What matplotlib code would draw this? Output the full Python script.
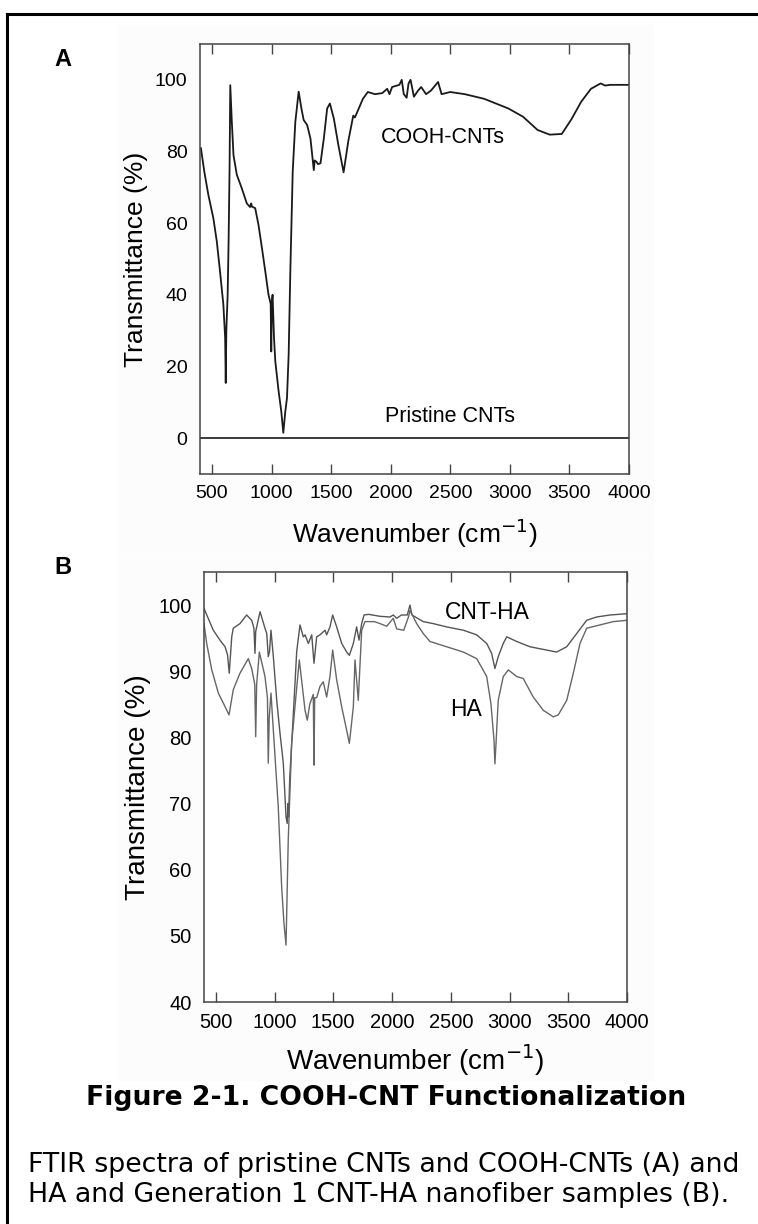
import matplotlib
matplotlib.use("Agg")
import matplotlib.pyplot as plt
from matplotlib.lines import Line2D
from matplotlib.patches import Rectangle

plt.rcParams['font.family'] = ['Liberation Sans', 'DejaVu Sans']

# --- panel A : pristine CNTs / COOH-CNTs ---
cooh_wn = [408, 436, 470, 512, 541, 568, 596, 611, 616, 621, 632, 640, 648, 654,
           667, 681, 709, 751, 793, 820, 830, 836, 863, 891, 920, 948, 975, 993,
           998, 1003, 1009, 1021, 1032, 1060, 1082, 1099, 1116, 1130, 1144, 1158,
           1178, 1200, 1228, 1251, 1270, 1299, 1327, 1355, 1362, 1375, 1390, 1411,
           1439, 1467, 1490, 1523, 1560, 1605, 1645, 1686, 1700, 1727, 1767, 1808,
           1869, 1930, 1971, 1990, 2012, 2073, 2093, 2110, 2134, 2150, 2167, 2195,
           2230, 2256, 2297, 2338, 2398, 2427, 2500, 2622, 2785, 2988, 3111, 3233,
           3335, 3436, 3517, 3599, 3681, 3762, 3800, 3843, 4000]
cooh_t = [80.9, 74.4, 67.9, 61.4, 54.9, 46.5, 37.3, 28, 15.4, 30, 40, 55, 75, 98.5,
          88.3, 79, 73.5, 69.7, 65.5, 64.5, 65.5, 64.6, 64.2, 59.5, 53, 46.5, 40, 37.5,
          24.2, 38, 40, 28, 21.4, 13, 7.5, 1.5, 7.5, 11.2, 23.4, 46.5,
          74.4, 88.3, 96.7, 92, 88.8, 87.4, 83.6, 74.8, 77.5, 77.2, 76.5, 76.7,
          83.6, 92, 93.4, 89.2, 82, 74.2, 83, 90, 89.5, 91.6, 94.7, 96.6,
          96, 96.3, 97.5, 96, 98, 98.6, 100, 96, 95, 99, 100, 95.3,
          97, 98, 96, 97, 99.4, 96, 96.6, 96, 94.7, 92, 89.7, 86,
          84.7, 84.9, 89, 93.9, 97.5, 99, 98.4, 98.6, 98.6]
pristine_wn = [400, 4000]
pristine_t = [0, 0]

# --- panel B : HA / CNT-HA ---
cntha_wn = [400, 479, 536, 579, 600, 615, 636, 649, 706, 763, 806, 825, 834, 840,
            877, 919, 934, 947, 958, 970, 990, 1019, 1047, 1075, 1098, 1108, 1115,
            1120, 1130, 1146, 1174, 1189, 1217, 1245, 1260, 1288, 1317, 1336, 1359,
            1387, 1430, 1444, 1472, 1495, 1529, 1572, 1614, 1637, 1671, 1699, 1719,
            1742, 1762, 1800, 1898, 1983, 2011, 2040, 2080, 2130, 2153, 2170, 2266,
            2351, 2465, 2607, 2721, 2806, 2848, 2876, 2904, 2947, 2976, 3061, 3174,
            3316, 3401, 3487, 3572, 3657, 3742, 3855, 4000]
cntha_t = [99.5, 96.2, 94.7, 93.7, 92.5, 89.7, 95.2, 96.5, 97.2, 98.5, 97.7, 96.5, 92.7, 96,
           99, 96.5, 95.7, 92.2, 93, 96.2, 92.2, 85.6, 80.6, 76.1, 68, 67, 70,
           68, 74, 79, 88, 93, 97, 95.2, 95.5, 94.2, 95.5, 91.2, 95.2,
           95.5, 96.2, 95.5, 96.7, 98.5, 96.7, 94.2, 92.9, 92.4, 94.2, 96.7, 94.7,
           97.2, 98.5, 98.6, 98.3, 98.2, 98.5, 98, 98.5, 98.5, 100, 98.5, 97.5,
           97.2, 96.7, 96.2, 95.5, 94.2, 92.7, 90.4, 92.2, 94.2, 95.2, 94.5, 93.7,
           93.2, 92.9, 93.7, 95.7, 97.7, 98.2, 98.5, 98.7]
ha_wn = [400, 423, 466, 522, 564, 613, 649, 706, 777, 806, 832, 840, 848, 871,
         919, 940, 947, 955, 970, 990, 1032, 1061, 1080, 1098, 1117, 1146, 1174,
         1211, 1240, 1260, 1279, 1300, 1330, 1336, 1342, 1359, 1387, 1415, 1444,
         1472, 1495, 1529, 1572, 1614, 1637, 1671, 1685, 1713, 1725, 1742, 1770,
         1850, 1898, 1955, 2011, 2040, 2100, 2140, 2153, 2210, 2266, 2323, 2465,
         2607, 2721, 2806, 2842, 2868, 2876, 2885, 2904, 2947, 2990, 3061, 3117,
         3202, 3287, 3373, 3415, 3487, 3543, 3600, 3657, 3770, 3883, 4000]
ha_t = [97.2, 94.2, 90.2, 86.7, 85.2, 83.4, 87.2, 89.7, 91.9, 90.4, 88, 80.1, 88, 92.9,
        89.2, 86, 76.1, 83, 86.7, 81.1, 69.5, 57.4, 52, 48.6, 64.5, 79.1, 84.6,
        91.7, 87.2, 84.1, 82.6, 85, 86.5, 75.8, 86, 86, 87.7, 88.4, 86.1,
        89.2, 93.2, 88.7, 84.6, 81.1, 79.1, 84.6, 91.7, 85.6, 90, 96.2, 97.5,
        97.5, 97.2, 96.8, 98, 96.4, 96.2, 98.2, 99.2, 97.2, 95.7, 94.5, 93.7,
        92.9, 91.9, 89.2, 85.1, 79.6, 76, 79, 85.6, 89.2, 90.2, 89.2, 88.9,
        86.1, 84.1, 83.1, 83.4, 85.6, 89.7, 94.2, 96.5, 97, 97.5, 97.7]

W, H = 758, 1224


def style_axes(ax, yticks, tick_size, label_size):
    """ cadre gris, ticks x vers l'interieur en haut et en bas, pas de ticks y """
    for s in ax.spines.values():
        s.set_color('#444444')
        s.set_linewidth(1.1)
    ax.set_xlim(400, 4000)
    ax.set_xticks([500, 1000, 1500, 2000, 2500, 3000, 3500, 4000])
    ax.set_yticks(yticks)
    ax.tick_params(axis='x', direction='in', top=True, length=7, width=1,
                   color='#444444', labelsize=tick_size, pad=8)
    ax.tick_params(axis='y', length=0, labelsize=tick_size, pad=9)
    ax.set_xlabel('Wavenumber (cm$^{-1}$)', fontsize=label_size, labelpad=10)
    ax.set_ylabel('Transmittance (%)', fontsize=label_size, labelpad=5)


fig = plt.figure(figsize=(W / 100, H / 100), dpi=100)

# cadre de la page
fig.add_artist(Line2D([7 / W, 7 / W], [0, 1 - 14 / H], transform=fig.transFigure,
                      color='black', lw=2.2))
fig.add_artist(Line2D([7 / W, 1], [1 - 14 / H, 1 - 14 / H], transform=fig.transFigure,
                      color='black', lw=2.2))

# fonds tres clairs des images collees
fig.add_artist(Rectangle((118 / W, 1 - 552 / H), 535 / W, 527 / H,
                         transform=fig.transFigure, color='#fcfcfc', zorder=0))
fig.add_artist(Rectangle((118 / W, 1 - 1080 / H), 535 / W, 526 / H,
                         transform=fig.transFigure, color='#fcfcfc', zorder=0))

# panel A
ax1 = fig.add_axes([200 / W, 1 - 474 / H, 429 / W, 430 / H])
ax1.plot(cooh_wn, cooh_t, color='#1a1a1a', lw=1.3)
ax1.plot(pristine_wn, pristine_t, color='#1a1a1a', lw=1.2)
ax1.set_ylim(-10, 110)
style_axes(ax1, [0, 20, 40, 60, 80, 100], 14, 19)
ax1.text(2440, 84, 'COOH-CNTs', fontsize=15.5, ha='center', va='center')
ax1.text(2500, 6, 'Pristine CNTs', fontsize=15.5, ha='center', va='center')

# panel B
ax2 = fig.add_axes([204 / W, 1 - 1002 / H, 423 / W, 430 / H])
ax2.plot(cntha_wn, cntha_t, color='#555555', lw=1.0)
ax2.plot(ha_wn, ha_t, color='#666666', lw=1.0)
ax2.set_ylim(40, 105)
style_axes(ax2, [40, 50, 60, 70, 80, 90, 100], 14.5, 20)
ax2.xaxis.labelpad = 7
ax2.text(2810, 98.9, 'CNT-HA', fontsize=16.5, ha='center', va='center')
ax2.text(2626, 84.2, 'HA', fontsize=16.5, ha='center', va='center')

# lettres des panels
fig.text(63 / W, 1 - 60 / H, 'A', fontsize=17, fontweight='bold', ha='center', va='center')
fig.text(63 / W, 1 - 567 / H, 'B', fontsize=17, fontweight='bold', ha='center', va='center')

# legende de la figure
fig.text(386 / W, 1 - 1098 / H, 'Figure 2-1. COOH-CNT Functionalization',
         family='DejaVu Sans', fontsize=19.2, fontweight='bold', ha='center', va='center')
fig.text(28 / W, 1 - 1172 / H, 'FTIR spectra of pristine CNTs and COOH-CNTs (A) and',
         family='DejaVu Sans', fontsize=19.3, ha='left', va='baseline')
fig.text(28 / W, 1 - 1202 / H, 'HA and Generation 1 CNT-HA nanofiber samples (B).',
         family='DejaVu Sans', fontsize=19.3, ha='left', va='baseline')

fig.savefig('out.png', dpi=100)
